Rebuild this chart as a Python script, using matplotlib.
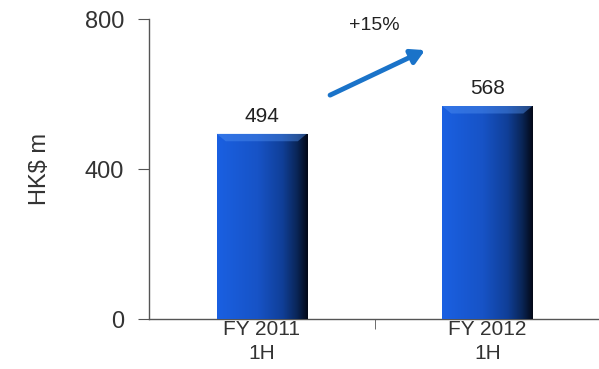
import numpy as np
import matplotlib.pyplot as plt
from matplotlib.colors import LinearSegmentedColormap

categories = ["FY 2011\n1H", "FY 2012\n1H"]
values = [494, 568]
growth_label = "+15%"

plt.rcParams["font.family"] = ["Liberation Sans", "DejaVu Sans"]

fig = plt.figure(figsize=(5.99, 3.69), dpi=100)
ax = fig.add_axes([149 / 599, 50 / 369, 451 / 599, 300 / 369])

x = np.arange(len(categories)) + 0.5
bars = ax.bar(x, values, width=0.4, color="#1d5bd0", edgecolor="none", zorder=2)

# horizontal gradient: blue on the left, near black on the right
cmap = LinearSegmentedColormap.from_list(
    "bar", [(0.0, "#1a60e2"), (0.45, "#1753c6"), (0.72, "#103f98"),
            (0.88, "#0a2658"), (1.0, "#030816")])
grad = np.linspace(0, 1, 256).reshape(1, -1)
for b in bars:
    x0, y0 = b.get_x(), b.get_y()
    w, h = b.get_width(), b.get_height()
    im = ax.imshow(grad, cmap=cmap, aspect="auto", extent=[x0, x0 + w, y0, y0 + h],
                   zorder=3, interpolation="bicubic")
    im.set_clip_path(b)
    # bevel highlight at the top
    ax.fill([x0, x0 + w, x0 + w * 0.9, x0 + w * 0.1],
            [y0 + h, y0 + h, y0 + h - 20, y0 + h - 20],
            color="#4f8ff0", alpha=0.45, zorder=4, lw=0)
    ax.text(x0 + w / 2, y0 + h + 20, f"{h:.0f}", ha="center", va="bottom",
            fontsize=15, color="#222222")

ax.set_xlim(0, 2)
ax.set_ylim(0, 800)
ax.set_yticks([0, 400, 800])
ax.set_xticks(x)
ax.set_xticklabels(categories, fontsize=15, color="#333333", linespacing=1.3)
ax.set_xticks([1], minor=True)
ax.tick_params(axis="x", which="major", length=0, pad=1)
ax.tick_params(axis="x", which="minor", length=7, direction="out", color="#555555")
ax.tick_params(axis="y", length=8, direction="out", labelsize=17, colors="#555555",
               labelcolor="#333333", pad=10)

for s in ["top", "right"]:
    ax.spines[s].set_visible(False)
for s in ["left", "bottom"]:
    ax.spines[s].set_color("#555555")
    ax.spines[s].set_linewidth(1.0)

ax.set_ylabel("HK$ m", fontsize=17, color="#333333", labelpad=24)

ax.annotate("", xy=(1.224, 717), xytext=(0.803, 597),
            arrowprops=dict(arrowstyle="-|>,head_length=0.8,head_width=0.45",
                            color="#1a73c9", lw=3.5, shrinkA=0, shrinkB=0))
ax.text(1.0, 784, growth_label, ha="center", va="center", fontsize=14,
        color="#222222")

fig.savefig("out.png", dpi=100)
